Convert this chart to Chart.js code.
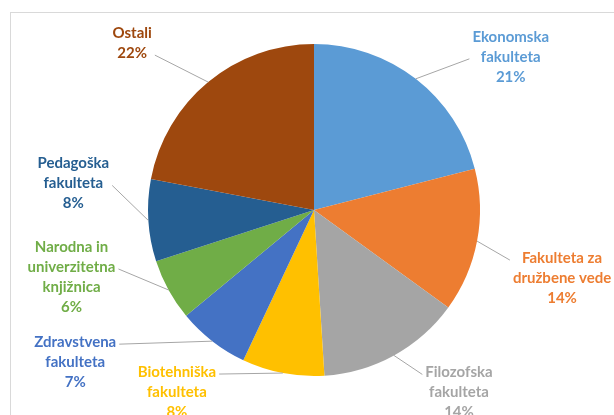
<!DOCTYPE html>
<html>
<head>
<meta charset="utf-8">
<script src="https://cdn.jsdelivr.net/npm/chart.js@4"></script>
<style>
  html, body { margin: 0; padding: 0; background: #fff; overflow: hidden; }
  #wrap { position: relative; width: 614px; height: 415px; }
  #frame { position: absolute; left: 10px; top: 12px; width: 640px; height: 440px; border: 1px solid #d9d9d9; }
  canvas { position: absolute; left: 0; top: 0; }
</style>
</head>
<body>
<div id="wrap">
  <div id="frame"></div>
  <canvas id="pie" width="614" height="415"></canvas>
</div>
<script>
// categories (one entry per slice, split into display lines)
const categories = [
    ["Ekonomska", "fakulteta"],
    ["Fakulteta za", "družbene vede"],
    ["Filozofska", "fakulteta"],
    ["Biotehniška", "fakulteta"],
    ["Zdravstvena", "fakulteta"],
    ["Narodna in", "univerzitetna", "knjižnica"],
    ["Pedagoška", "fakulteta"],
    ["Ostali"]
];
const shares = [21, 14, 14, 8, 7, 6, 8, 22];
const sliceColors = ["#5B9BD5", "#ED7D31", "#A5A5A5", "#FFC000", "#4472C4", "#70AD47", "#255E91", "#9E480E"];

// label placement relative to the slice edge (dx, dy) and which text line the leader meets
const labelOffsets = [[95, -42], [85, 17], [65, 17], [-106, -1], [-137, 1], [-97, -43], [-75, -57], [-76, -49]];
const attachLines = [1, 0, 0, 0, 0, 1, 1, 1];

const outsideLabels = {
    id: "outsideLabels",
    afterDatasetsDraw(chart) {
        const ctx = chart.ctx;
        const meta = chart.getDatasetMeta(0);
        const total = shares.reduce((a, b) => a + b, 0);
        const lineH = 20;
        ctx.save();
        ctx.font = "bold 15px Lato";
        ctx.textAlign = "center";
        ctx.textBaseline = "middle";
        meta.data.forEach((arc, i) => {
            const p = arc.getProps(["x", "y", "startAngle", "endAngle", "outerRadius"], true);
            const mid = (p.startAngle + p.endAngle) / 2;
            const ax = p.x + Math.cos(mid) * p.outerRadius;
            const ay = p.y + Math.sin(mid) * p.outerRadius;
            const lines = categories[i].concat([Math.round(shares[i] / total * 100) + "%"]);
            const cx = ax + labelOffsets[i][0];
            const y1 = ay + labelOffsets[i][1];
            const maxW = Math.max(...lines.map(l => ctx.measureText(l).width));

            // leader line
            const ly = y1 + attachLines[i] * lineH + 2;
            const lx = labelOffsets[i][0] > 0 ? cx - maxW / 2 - 3 : cx + maxW / 2 + 3;
            ctx.strokeStyle = "#a6a6a6";
            ctx.lineWidth = 1;
            ctx.beginPath();
            ctx.moveTo(ax, ay);
            ctx.lineTo(lx, ly);
            ctx.stroke();

            ctx.fillStyle = sliceColors[i];
            lines.forEach((l, k) => ctx.fillText(l, cx, y1 + k * lineH));
        });
        ctx.restore();
    }
};

new Chart(document.getElementById("pie").getContext("2d"), {
    type: "pie",
    data: {
        labels: categories,
        datasets: [{
            data: shares,
            backgroundColor: sliceColors,
            borderWidth: 0
        }]
    },
    options: {
        responsive: false,
        animation: false,
        layout: { padding: { top: 44, bottom: 39, left: 14, right: 0 } },
        plugins: {
            legend: { display: false },
            tooltip: { enabled: false }
        }
    },
    plugins: [outsideLabels]
});
</script>
</body>
</html>
